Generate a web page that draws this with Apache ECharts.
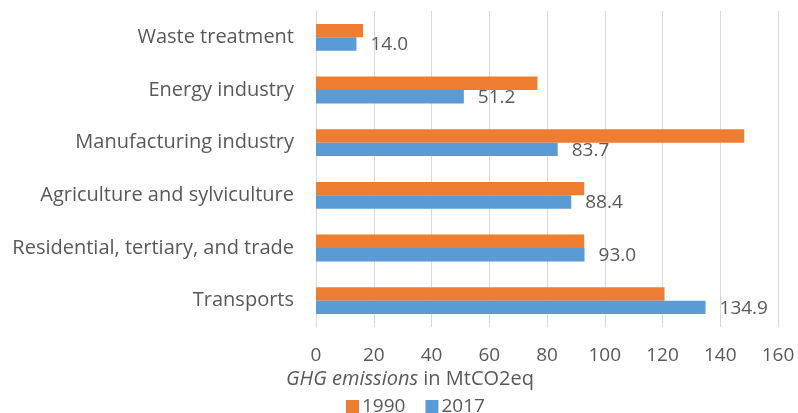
<!DOCTYPE html>
<html>
<head>
<meta charset="utf-8">
<script src="https://cdn.jsdelivr.net/npm/echarts@6/dist/echarts.min.js"></script>
<style>
  html, body { margin: 0; padding: 0; background: #fff; }
  #chart { width: 798px; height: 413px; }
</style>
</head>
<body>
<div id="chart"></div>
<script>
// sectors, top to bottom
const categories = ['Waste treatment', 'Energy industry', 'Manufacturing industry',
  'Agriculture and sylviculture', 'Residential, tertiary, and trade', 'Transports'];
const values1990 = [16.3, 76.7, 148.3, 92.9, 92.9, 120.7];
const values2017 = [14.0, 51.2, 83.7, 88.4, 93.0, 134.9];
const xTicks = [0, 20, 40, 60, 80, 100, 120, 140, 160];

const FONT = 'Open Sans';
const GRAY = '#595959';

const chart = echarts.init(document.getElementById('chart'));
const option = {
  animation: false,
  textStyle: { fontFamily: FONT },
  color: ['#ED7D31', '#5B9BD5'],
  title: {
    text: '{i|GHG emissions} in MtCO2eq',
    left: 286,
    top: 369,
    padding: 0,
    textStyle: {
      fontFamily: FONT, fontSize: 20, fontWeight: 'normal', color: GRAY,
      rich: { i: { fontFamily: FONT, fontSize: 20, fontStyle: 'italic', color: GRAY } }
    }
  },
  legend: {
    data: ['1990', '2017'],
    left: 346,
    top: 397,
    padding: 0,
    itemWidth: 13,
    itemHeight: 13,
    itemGap: 20,
    icon: 'rect',
    textStyle: { fontFamily: FONT, fontSize: 19, color: GRAY, padding: [0, 0, 0, -2] }
  },
  grid: { left: 316, right: 20, top: 11, bottom: 86 },
  xAxis: {
    type: 'value',
    min: xTicks[0],
    max: xTicks[xTicks.length - 1],
    interval: 20,
    axisLine: { show: false },
    axisTick: { show: false },
    axisLabel: { color: GRAY, fontSize: 19, margin: 19, fontFamily: FONT },
    splitLine: { lineStyle: { color: '#D9D9D9', width: 1 } }
  },
  yAxis: {
    type: 'category',
    inverse: true,
    data: categories,
    axisLine: { show: true, lineStyle: { color: '#D9D9D9', width: 1 } },
    axisTick: { show: false },
    axisLabel: { color: GRAY, fontSize: 20, margin: 22, fontFamily: FONT }
  },
  series: [
    {
      name: '1990',
      type: 'bar',
      data: values1990,
      barGap: '0%',
      barCategoryGap: '49%'
    },
    {
      name: '2017',
      type: 'bar',
      data: values2017,
      barGap: '0%',
      barCategoryGap: '49%',
      label: {
        show: true,
        position: 'right',
        distance: 14,
        offset: [0, 1],
        color: GRAY,
        fontSize: 19,
        fontFamily: FONT,
        formatter: p => p.value.toFixed(1)
      }
    }
  ]
};
chart.setOption(option);
</script>
</body>
</html>
